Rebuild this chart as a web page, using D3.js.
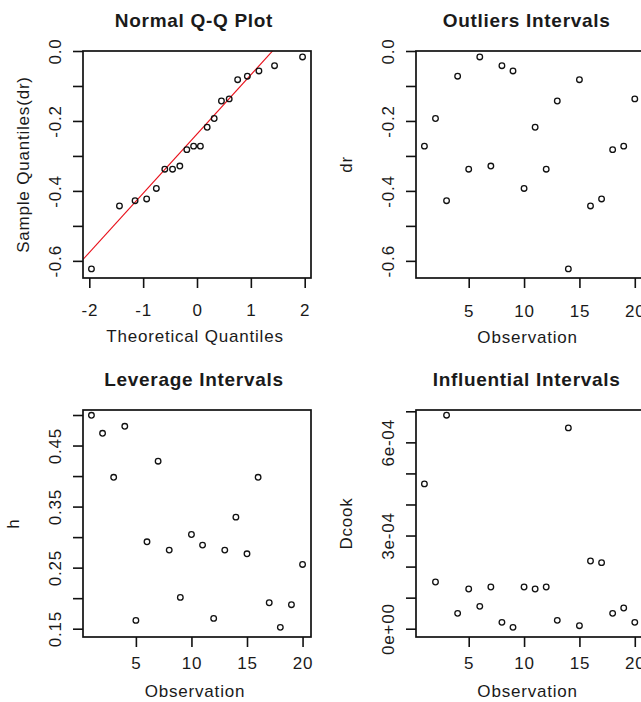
<!DOCTYPE html>
<html>
<head>
<meta charset="utf-8">
<script src="https://cdn.jsdelivr.net/npm/d3@7"></script>
<style>
  body { margin: 0; background: #fff; }
  text { font-family: "Liberation Sans", Arial, sans-serif; fill: #1a1a1a; }
</style>
</head>
<body>
<svg id="chart" width="641" height="702"></svg>
<script>
// data
var obs = [1, 2, 3, 4, 5, 6, 7, 8, 9, 10, 11, 12, 13, 14, 15, 16, 17, 18, 19, 20];
var dr = [-0.272, -0.193, -0.428, -0.072, -0.338, -0.017, -0.329, -0.042, -0.057, -0.393,
          -0.218, -0.338, -0.143, -0.623, -0.082, -0.443, -0.423, -0.282, -0.272, -0.137];
var h = [0.4995, 0.470, 0.398, 0.4815, 0.1636, 0.2923, 0.4243, 0.2787, 0.2013, 0.3043,
         0.2869, 0.1669, 0.2787, 0.3327, 0.2727, 0.398, 0.1925, 0.1522, 0.1893, 0.2552];
var dcook = [4.662e-4, 1.504e-4, 6.874e-4, 0.494e-4, 1.278e-4, 0.720e-4, 1.343e-4, 0.204e-4, 0.043e-4, 1.343e-4,
             1.278e-4, 1.343e-4, 0.269e-4, 6.466e-4, 0.097e-4, 2.180e-4, 2.127e-4, 0.494e-4, 0.666e-4, 0.204e-4];
// theoretical normal quantiles for n = 20
var theoQ = [-1.960, -1.440, -1.150, -0.935, -0.755, -0.598, -0.454, -0.319, -0.189, -0.063,
             0.063, 0.189, 0.319, 0.454, 0.598, 0.755, 0.935, 1.150, 1.440, 1.960];
var qNorm25 = -0.6745, qNorm75 = 0.6745;

// ticks
var qqXTicks = [-2, -1, 0, 1, 2];
var drTicks = [0, -0.1, -0.2, -0.3, -0.4, -0.5, -0.6];
var drLabels = {"0": "0.0", "-0.2": "-0.2", "-0.4": "-0.4", "-0.6": "-0.6"};
var obsTicks = [5, 10, 15, 20];
var hTicks = [0.15, 0.20, 0.25, 0.30, 0.35, 0.40, 0.45, 0.50];
var hLabels = {"0.15": "0.15", "0.25": "0.25", "0.35": "0.35", "0.45": "0.45"};
var dcookTicks = [0, 1e-4, 2e-4, 3e-4, 4e-4, 5e-4, 6e-4, 7e-4];
var dcookLabels = {"0": "0e+00", "0.0003": "3e-04", "0.0006": "6e-04"};

var svg = d3.select("#chart");
var ink = "#111";

function panel(p) {
  var x = d3.scaleLinear().domain(p.xDomain).range([p.left, p.right]);
  var y = d3.scaleLinear().domain(p.yDomain).range([p.bottom, p.top]);
  var g = svg.append("g");

  // title
  g.append("text")
    .attr("x", (p.left + p.right) / 2 - 3)
    .attr("y", p.top - 24)
    .attr("text-anchor", "middle")
    .attr("font-size", "19px")
    .attr("font-weight", "bold")
    .attr("letter-spacing", "0.7px")
    .text(p.title);

  // x axis
  var xAxis = g.append("g")
    .attr("transform", "translate(0," + p.bottom + ")")
    .call(d3.axisBottom(x).tickValues(p.xTicks).tickSize(10).tickSizeOuter(0).tickPadding(0)
      .tickFormat(function(d) { return String(d); }));
  xAxis.select(".domain").remove();
  xAxis.selectAll(".tick line").attr("stroke", ink).attr("stroke-width", 1.6);
  xAxis.selectAll(".tick text")
    .attr("y", p.tickOff).attr("dy", null)
    .attr("font-size", "17px").attr("letter-spacing", "0.8px")
    .attr("fill", "#1a1a1a");
  xAxis.attr("font-family", null).attr("font-size", null);

  // y axis
  var yAxis = g.append("g")
    .attr("transform", "translate(" + p.left + ",0)")
    .call(d3.axisLeft(y).tickValues(p.yTicks).tickSize(10).tickSizeOuter(0)
      .tickFormat(function(d) { return p.yLabels[String(+d.toFixed(6))] || ""; }));
  yAxis.select(".domain").remove();
  yAxis.selectAll(".tick line").attr("stroke", ink).attr("stroke-width", 1.6);
  yAxis.selectAll(".tick text")
    .attr("x", 0).attr("y", -22).attr("dy", null)
    .attr("transform", "rotate(-90)")
    .attr("text-anchor", "middle")
    .attr("font-size", "17px").attr("letter-spacing", "0.8px")
    .attr("fill", "#1a1a1a");
  yAxis.attr("font-family", null).attr("font-size", null);

  // axis labels
  g.append("text")
    .attr("x", (p.left + p.right) / 2 - 2)
    .attr("y", p.bottom + p.labelOff)
    .attr("text-anchor", "middle")
    .attr("font-size", "17px")
    .attr("letter-spacing", "0.8px")
    .text(p.xLabel);

  g.append("text")
    .attr("transform", "translate(" + (p.left - p.yLabelOff) + "," + ((p.top + p.bottom) / 2) + ") rotate(-90)")
    .attr("text-anchor", "middle")
    .attr("font-size", "17px")
    .attr("letter-spacing", "0.8px")
    .text(p.yLabel);

  // clip for lines
  var clipId = "clip" + p.id;
  svg.append("clipPath").attr("id", clipId)
    .append("rect")
    .attr("x", p.left).attr("y", p.top)
    .attr("width", p.right - p.left).attr("height", p.bottom - p.top);

  if (p.line) {
    g.append("line")
      .attr("clip-path", "url(#" + clipId + ")")
      .attr("x1", x(p.xDomain[0])).attr("y1", y(p.line.a + p.line.b * p.xDomain[0]))
      .attr("x2", x(p.xDomain[1])).attr("y2", y(p.line.a + p.line.b * p.xDomain[1]))
      .attr("stroke", "#e8101a")
      .attr("stroke-width", 1.1);
  }

  // points
  g.selectAll("circle")
    .data(p.xs.map(function(v, i) { return [v, p.ys[i]]; }))
    .enter().append("circle")
    .attr("cx", function(d) { return x(d[0]); })
    .attr("cy", function(d) { return y(d[1]); })
    .attr("r", 2.8)
    .attr("fill", "none")
    .attr("stroke", ink)
    .attr("stroke-width", 1.3);

  // box
  g.append("rect")
    .attr("x", p.left).attr("y", p.top)
    .attr("width", p.right - p.left).attr("height", p.bottom - p.top)
    .attr("fill", "none")
    .attr("stroke", ink)
    .attr("stroke-width", 1.7);
}

// QQ plot
var sampleQ = d3.sort(dr);
var q1 = d3.quantileSorted(sampleQ, 0.25), q3 = d3.quantileSorted(sampleQ, 0.75);
var slope = (q3 - q1) / (qNorm75 - qNorm25);
var intercept = q1 - slope * qNorm25;

var leftX = 83, rightX = 311, leftX2 = 416, rightX2 = 643.2;
var topY = 51, botY = 278, topY2 = 410, botY2 = 637;

panel({
  id: 1, title: "Normal Q-Q Plot",
  left: leftX, right: rightX, top: topY, bottom: botY, tickOff: 38, labelOff: 64,
  xDomain: [-2.117, 2.117], yDomain: [-0.649, 0.0],
  xTicks: qqXTicks, yTicks: drTicks, yLabels: drLabels,
  xLabel: "Theoretical Quantiles", yLabel: "Sample Quantiles(dr)", yLabelOff: 54,
  xs: theoQ, ys: sampleQ,
  line: {a: intercept, b: slope}
});

panel({
  id: 2, title: "Outliers Intervals",
  left: leftX2, right: rightX2, top: topY, bottom: botY, tickOff: 39, labelOff: 65,
  xDomain: [0.24, 20.76], yDomain: [-0.649, 0.0],
  xTicks: obsTicks, yTicks: drTicks, yLabels: drLabels,
  xLabel: "Observation", yLabel: "dr", yLabelOff: 64,
  xs: obs, ys: dr
});

panel({
  id: 3, title: "Leverage Intervals",
  left: leftX, right: rightX, top: topY2, bottom: botY2, tickOff: 32, labelOff: 60,
  xDomain: [0.24, 20.76], yDomain: [0.1364, 0.5082],
  xTicks: obsTicks, yTicks: hTicks, yLabels: hLabels,
  xLabel: "Observation", yLabel: "h", yLabelOff: 64,
  xs: obs, ys: h
});

panel({
  id: 4, title: "Influential Intervals",
  left: leftX2, right: rightX2, top: topY2, bottom: botY2, tickOff: 32, labelOff: 60,
  xDomain: [0.24, 20.76], yDomain: [-0.267e-4, 7.042e-4],
  xTicks: obsTicks, yTicks: dcookTicks, yLabels: dcookLabels,
  xLabel: "Observation", yLabel: "Dcook", yLabelOff: 64,
  xs: obs, ys: dcook
});
</script>
</body>
</html>
